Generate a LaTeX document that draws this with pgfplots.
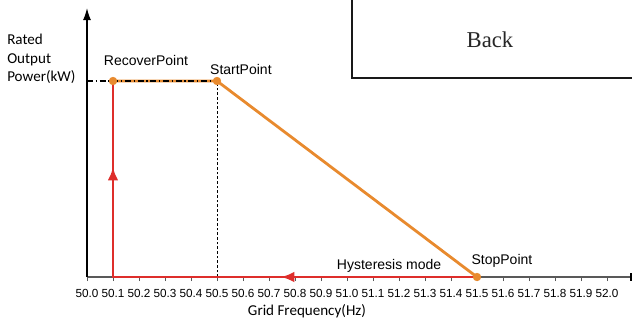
\documentclass[border=0pt]{standalone}
\usepackage{pgfplots}
\pgfplotsset{compat=1.18}
\usepackage{fontspec}
\setmainfont{Liberation Sans}
\newfontfamily\calib{Carlito}
\newfontfamily\serifb{Liberation Serif}
\usetikzlibrary{arrows.meta}
\definecolor{myorange}{RGB}{232,138,46}
\definecolor{myred}{RGB}{222,46,43}
\begin{document}
\begin{tikzpicture}
\begin{axis}[
  x=195pt, y=147pt,
  xmin=50, xmax=52.14, ymin=0, ymax=1.372,
  enlargelimits=false,
  axis x line=bottom, axis y line=left,
  axis line style={draw=none},
  ytick=\empty,
  xtick={50.0,50.1,50.2,50.3,50.4,50.5,50.6,50.7,50.8,50.9,51.0,51.1,51.2,51.3,51.4,51.5,51.6,51.7,51.8,51.9,52.0},
  xtick align=outside,
  major tick length=3pt,
  xtick style={black!65, line width=0.6pt},
  /pgf/number format/assume math mode=true,
  xticklabel style={font=\fontsize{8.8}{10}\selectfont, yshift=-2.5pt, /pgf/number format/.cd, fixed, fixed zerofill, precision=1},
  clip=false,
]
% axes
\draw[black!65, line width=0.9pt] (axis cs:50,0) -- (axis cs:52.12,0);
\draw[black, line width=0.9pt, -{Latex[length=9pt,width=6pt]}] (axis cs:50,0) -- (axis cs:50,1.372);
\fill[black] (axis cs:52.09,-0.02) rectangle (axis cs:52.12,0.02);
% dashed vertical at 50.5
\addplot[black, line width=0.5pt, dash pattern=on 2pt off 1.5pt] coordinates {(50.5,0) (50.5,1)};
% red hysteresis path
\addplot[myred, line width=2.1pt] coordinates {(51.5,0) (50.1,0) (50.1,1)};
\addplot[myred, line width=2.1pt, -{Latex[length=10pt,width=8pt]}] coordinates {(50.1,0.3) (50.1,0.561)};
\addplot[myred, line width=2.1pt, -{Latex[length=10pt,width=8pt]}] coordinates {(51.0,0) (50.746,0)};
% orange curve
\addplot[myorange, line width=2.1pt] coordinates {(50.1,1) (50.5,1) (51.5,0)};
% dash-dot rated line
\addplot[black, line width=1pt, dash pattern=on 4.5pt off 2pt on 1pt off 2pt] coordinates {(50,1) (50.5,1)};
% points
\addplot[only marks, mark=*, mark size=2.9pt, myorange, mark options={draw=myorange, fill=myorange}] coordinates {(50.1,1) (50.5,1) (51.5,0)};
% box
\draw[line width=1.5pt, black!90] (axis cs:53,1.015) -- (axis cs:51.019,1.015) -- (axis cs:51.019,1.7);
\node[font=\serifb\fontsize{17}{20}\selectfont, text=black!85] at (axis cs:51.55,1.209) {Back};
% labels
\node[font=\fontsize{10.5}{12}\selectfont] at (axis cs:50.227,1.107) {RecoverPoint};
\node[font=\fontsize{10.5}{12}\selectfont] at (axis cs:50.592,1.061) {StartPoint};
\node[font=\fontsize{10.5}{12}\selectfont] at (axis cs:51.596,0.0816) {StopPoint};
\node[font=\fontsize{10.5}{12}\selectfont] at (axis cs:51.162,0.056) {Hysteresis mode};
\node[font=\calib\fontsize{11.3}{13.9}\selectfont, align=left, anchor=west, inner sep=0pt] at (axis cs:49.6923,1.112) {Rated\\Output\\Power(kW)};
\node[font=\calib\fontsize{11.3}{13.9}\selectfont] at (axis cs:50.846,-0.172) {Grid Frequency(Hz)};
\coordinate (bbA) at (axis cs:49.6654,-0.2194);
\coordinate (bbB) at (axis cs:52.0962,1.4133);
\end{axis}
\pgfresetboundingbox
\path[use as bounding box] (bbA) rectangle (bbB);
\end{tikzpicture}
\end{document}
